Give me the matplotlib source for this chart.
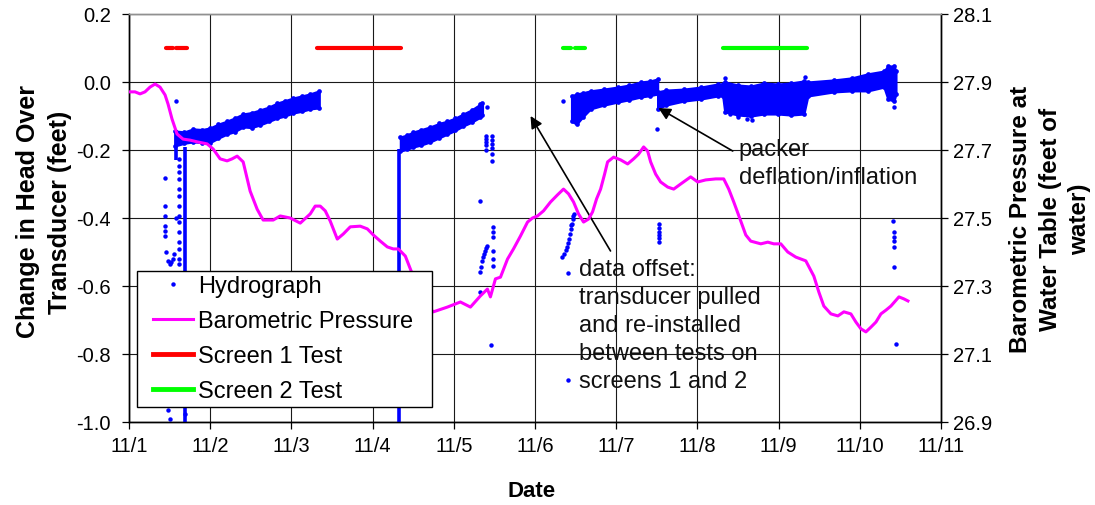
import matplotlib
matplotlib.use("Agg")
import matplotlib.pyplot as plt
from matplotlib.lines import Line2D
from matplotlib.legend_handler import HandlerLine2D

plt.rcParams['font.family'] = ['Liberation Sans', 'DejaVu Sans']

# ---------------- data (x = days after 11/1 00:00) ----------------
date_ticks = [0, 1, 2, 3, 4, 5, 6, 7, 8, 9, 10]
date_labels = ['11/1', '11/2', '11/3', '11/4', '11/5', '11/6', '11/7', '11/8', '11/9', '11/10', '11/11']
head_ticks = [-1.0, -0.8, -0.6, -0.4, -0.2, 0.0, 0.2]
baro_ticks = [26.9, 27.1, 27.3, 27.5, 27.7, 27.9, 28.1]

# Barometric pressure (feet of water)
baro_t = [0.000, 0.074, 0.136, 0.197, 0.259, 0.321, 0.382, 0.444, 0.481, 0.530,
          0.592, 0.666, 0.752, 0.839, 0.962, 1.036, 1.122, 1.208, 1.270, 1.332,
          1.406, 1.492, 1.578, 1.652, 1.776, 1.862, 1.985, 2.109, 2.232, 2.293,
          2.355, 2.417, 2.478, 2.565, 2.639, 2.725, 2.848, 2.935, 3.009, 3.095,
          3.181, 3.255, 3.317, 3.403, 3.465, 3.563, 3.650, 3.748, 3.921, 4.081,
          4.205, 4.328, 4.414, 4.451, 4.513, 4.575, 4.661, 4.735, 4.821, 4.908,
          4.969, 5.031, 5.105, 5.191, 5.277, 5.351, 5.413, 5.475, 5.536, 5.598,
          5.660, 5.709, 5.758, 5.808, 5.857, 5.894, 5.968, 6.054, 6.141, 6.215,
          6.276, 6.338, 6.387, 6.424, 6.486, 6.547, 6.634, 6.708, 6.794, 6.917,
          7.004, 7.102, 7.226, 7.324, 7.386, 7.448, 7.534, 7.596, 7.657, 7.781,
          7.867, 7.941, 8.027, 8.113, 8.212, 8.335, 8.434, 8.496, 8.557, 8.644,
          8.730, 8.804, 8.890, 8.952, 9.014, 9.075, 9.137, 9.199, 9.260, 9.322,
          9.383, 9.482, 9.544, 9.593]
baro_p = [27.871, 27.871, 27.865, 27.871, 27.885, 27.894, 27.885, 27.862, 27.835, 27.791,
          27.747, 27.732, 27.729, 27.724, 27.718, 27.703, 27.674, 27.668, 27.674, 27.682,
          27.665, 27.579, 27.526, 27.494, 27.494, 27.506, 27.500, 27.485, 27.512, 27.535,
          27.535, 27.521, 27.491, 27.438, 27.453, 27.474, 27.476, 27.468, 27.450, 27.432,
          27.415, 27.409, 27.409, 27.388, 27.350, 27.291, 27.247, 27.224, 27.238, 27.253,
          27.238, 27.271, 27.291, 27.268, 27.321, 27.326, 27.379, 27.409, 27.447, 27.488,
          27.500, 27.506, 27.521, 27.547, 27.568, 27.585, 27.571, 27.547, 27.512, 27.488,
          27.497, 27.518, 27.556, 27.585, 27.629, 27.665, 27.679, 27.671, 27.659, 27.674,
          27.688, 27.709, 27.697, 27.665, 27.629, 27.606, 27.591, 27.585, 27.600, 27.621,
          27.606, 27.612, 27.615, 27.615, 27.585, 27.547, 27.491, 27.450, 27.432, 27.424,
          27.429, 27.424, 27.424, 27.400, 27.385, 27.374, 27.329, 27.282, 27.241, 27.218,
          27.212, 27.224, 27.218, 27.194, 27.174, 27.165, 27.179, 27.194, 27.218, 27.229,
          27.241, 27.268, 27.262, 27.256]

# Hydrograph bands (upper/lower envelope of dense logger readings, feet)
segA_t = [0.567, 0.680, 0.789, 0.900, 0.999, 1.100, 1.208, 1.300, 1.406, 1.510, 1.615,
          1.720, 1.825, 1.920, 2.022, 2.130, 2.232, 2.343]
segA_hi = [-0.144, -0.147, -0.138, -0.140, -0.135, -0.124, -0.115, -0.106, -0.094, -0.090,
           -0.082, -0.074, -0.062, -0.055, -0.047, -0.041, -0.035, -0.026]
segA_lo = [-0.188, -0.180, -0.176, -0.178, -0.178, -0.165, -0.153, -0.146, -0.132, -0.134,
           -0.126, -0.116, -0.106, -0.100, -0.091, -0.086, -0.079, -0.076]

segB_t = [3.342, 3.420, 3.502, 3.600, 3.711, 3.820, 3.921, 4.020, 4.118, 4.220, 4.328, 4.353]
segB_hi = [-0.162, -0.156, -0.147, -0.140, -0.132, -0.122, -0.115, -0.106, -0.094, -0.082,
           -0.065, -0.062]
segB_lo = [-0.203, -0.198, -0.191, -0.185, -0.176, -0.164, -0.153, -0.142, -0.129, -0.118,
           -0.103, -0.097]

segC_t = [5.450, 5.512, 5.586, 5.684, 5.845, 6.017, 6.160, 6.301, 6.420, 6.510]
segC_hi = [-0.041, -0.035, -0.032, -0.026, -0.021, -0.015, -0.009, 0.000, 0.003, 0.009]
segC_lo = [-0.115, -0.124, -0.103, -0.079, -0.068, -0.059, -0.052, -0.044, -0.040, -0.035]

segD_t = [6.510, 6.609, 6.831, 7.041, 7.250, 7.312, 7.337, 7.500, 7.657, 7.820, 7.990,
          8.150, 8.311, 8.360, 8.681, 8.900, 9.100, 9.297, 9.346, 9.420, 9.445]
segD_hi = [-0.029, -0.024, -0.021, -0.015, -0.006, -0.006, 0.000, -0.009, -0.012, -0.003,
           -0.006, -0.003, 0.003, 0.000, 0.006, 0.012, 0.024, 0.032, 0.047, 0.047, 0.032]
segD_lo = [-0.079, -0.068, -0.056, -0.050, -0.041, -0.041, -0.088, -0.097, -0.100, -0.094,
           -0.094, -0.097, -0.094, -0.041, -0.029, -0.026, -0.026, -0.015, -0.050, -0.056,
           -0.035]

# Rapid drawdown / recovery columns (time, lowest, highest)
drop_t = [0.575, 0.690, 3.330]
drop_lo = [-0.230, -1.000, -1.000]
drop_hi = [-0.140, -0.190, -0.197]

# Individual readings away from the dense bands
pts_t = [0.580, 0.440, 0.440, 0.440, 0.440, 0.440, 0.440, 0.460, 0.480, 0.500, 0.520,
         0.540, 0.560, 0.620, 0.620, 0.620, 0.620, 0.620, 0.620, 0.620, 0.620, 0.620,
         0.620, 0.620, 0.620, 0.620, 0.620, 0.580, 0.480, 0.505, 0.690,
         4.414, 4.402, 4.402, 4.402, 4.402, 4.402, 4.476, 4.476, 4.476, 4.476, 4.476,
         4.476, 4.328, 4.328, 4.340, 4.353, 4.365, 4.377, 4.390, 4.402, 4.414, 4.488,
         4.488, 4.488, 4.488, 4.488, 4.488, 4.328, 4.464,
         5.339, 5.475, 5.463, 5.450, 5.438, 5.426, 5.413, 5.401, 5.389, 5.376, 5.352,
         5.327, 5.401, 5.401, 5.463, 5.438,
         6.498, 6.523, 6.523, 6.523, 6.523, 6.523, 6.523,
         7.337, 8.323, 7.398, 7.496, 7.607, 7.669, 9.420, 9.408, 9.420, 9.420, 9.420,
         9.420, 9.420, 9.445]
pts_y = [-0.056, -0.282, -0.365, -0.394, -0.424, -0.438, -0.453, -0.500, -0.525, -0.535,
         -0.530, -0.520, -0.505, -0.226, -0.247, -0.265, -0.285, -0.315, -0.335, -0.365,
         -0.394, -0.412, -0.441, -0.471, -0.491, -0.521, -0.535, -0.400, -0.965, -0.990,
         -0.975,
         -0.074, -0.159, -0.167, -0.176, -0.186, -0.200, -0.159, -0.170, -0.182, -0.194,
         -0.212, -0.232, -0.350, -0.559, -0.544, -0.526, -0.515, -0.505, -0.497, -0.488,
         -0.482, -0.426, -0.441, -0.456, -0.497, -0.521, -0.541, -0.618, -0.774,
         -0.056, -0.388, -0.403, -0.418, -0.432, -0.447, -0.462, -0.474, -0.485, -0.494,
         -0.506, -0.515, -0.562, -0.876, -0.395, -0.420,
         -0.138, -0.418, -0.430, -0.440, -0.450, -0.460, -0.471,
         0.012, 0.015, -0.094, -0.103, -0.109, -0.112, -0.074, -0.409, -0.441, -0.455,
         -0.468, -0.485, -0.544, -0.771]

# Packer test periods (plotted at +0.1 ft)
scr1_starts = [0.456, 0.580, 2.318]
scr1_ends = [0.543, 0.715, 3.354]
scr2_starts = [5.350, 5.490, 7.310]
scr2_ends = [5.440, 5.620, 8.350]
test_level = 0.1

BLUE = '#0000FF'
MAGENTA = '#FF00FF'
RED = '#FF0000'
GREEN = '#00FF00'

# ---------------- figure ----------------
fig = plt.figure(figsize=(10.95, 5.06), dpi=100)
ax = fig.add_axes([129 / 1095, 1 - 423 / 506, 812 / 1095, 408 / 506])
ax2 = ax.twinx()

ax.set_xlim(0, 10)
ax.set_ylim(-1.0, 0.2)
ax2.set_ylim(26.9, 28.1)

ax.set_xticks(date_ticks)
ax.set_xticklabels(date_labels)
ax.set_yticks(head_ticks)
ax.set_yticklabels(['%.1f' % v for v in head_ticks])
ax2.set_yticks(baro_ticks)
ax2.set_yticklabels(['%.1f' % v for v in baro_ticks])

ax.grid(True, color='#1a1a1a', linewidth=0.8)
ax.set_axisbelow(True)

ax.tick_params(axis='both', direction='out', length=5, width=0.9, labelsize=14.5, colors='black')
ax.tick_params(axis='y', pad=8)
ax.tick_params(axis='x', pad=5)
ax2.tick_params(axis='y', direction='out', length=5, width=0.9, labelsize=14.5, pad=4)

for a in (ax, ax2):
    a.spines['top'].set_color('#909090')
    a.spines['left'].set_color('black')
    a.spines['right'].set_color('black')
    a.spines['bottom'].set_color('black')
    for s in a.spines.values():
        s.set_linewidth(1.0)

# hydrograph (dense bands)
for t, hi, lo in [(segA_t, segA_hi, segA_lo), (segB_t, segB_hi, segB_lo),
                  (segC_t, segC_hi, segC_lo), (segD_t, segD_hi, segD_lo)]:
    ax.fill_between(t, lo, hi, color=BLUE, linewidth=1.6, edgecolor=BLUE, zorder=3)
    ax.plot(t, hi, 'o', color=BLUE, ms=3.4, mew=0, zorder=3)
    ax.plot(t, lo, 'o', color=BLUE, ms=3.4, mew=0, zorder=3)

ax.vlines(drop_t, drop_lo, drop_hi, color=BLUE, linewidth=2.6, zorder=3)
ax.plot(pts_t, pts_y, 'o', color=BLUE, ms=3.2, mew=0, linestyle='none', zorder=3)

# test periods
for s, e in zip(scr1_starts, scr1_ends):
    ax.plot([s, e], [test_level, test_level], color=RED, linewidth=3, solid_capstyle='round', zorder=4)
for s, e in zip(scr2_starts, scr2_ends):
    ax.plot([s, e], [test_level, test_level], color=GREEN, linewidth=3, solid_capstyle='round', zorder=4)

# barometric pressure
ax2.plot(baro_t, baro_p, color=MAGENTA, linewidth=2.2, zorder=5)

# annotations
ax.annotate('', xy=(4.945, -0.100), xytext=(5.93, -0.497),
            arrowprops=dict(arrowstyle='-|>', color='black', lw=1.2, mutation_scale=18,
                            shrinkA=0, shrinkB=0), zorder=6)
ax.text(5.536, -0.715, 'data offset:\ntransducer pulled\nand re-installed\nbetween tests on\nscreens 1 and 2',
        ha='left', va='center', fontsize=17, linespacing=1.36, color='#111111', zorder=6)
ax.annotate('', xy=(6.52, -0.0765), xytext=(7.435, -0.203),
            arrowprops=dict(arrowstyle='-|>', color='black', lw=1.2, mutation_scale=18,
                            shrinkA=0, shrinkB=0), zorder=6)
ax.text(7.51, -0.238, 'packer\ndeflation/inflation', ha='left', va='center', fontsize=17,
        linespacing=1.36, color='#111111', zorder=6)

# legend
handles = [Line2D([], [], marker='o', color=BLUE, ms=3.2, mew=0, linestyle='none'),
           Line2D([], [], color=MAGENTA, linewidth=2.2),
           Line2D([], [], color=RED, linewidth=3.5),
           Line2D([], [], color=GREEN, linewidth=3.5)]
labels = ['Hydrograph', 'Barometric Pressure', 'Screen 1 Test', 'Screen 2 Test']
hmap = {h: HandlerLine2D(xpad=0.46) for h in handles}
leg = ax2.legend(handles, labels, loc='lower left',
                 bbox_to_anchor=(0.0099, 0.037, 0.3633, 0.338), mode='expand',
                 borderaxespad=0, fontsize=17, frameon=True, fancybox=False, shadow=False,
                 handlelength=2.17, handletextpad=0.21, labelspacing=0.55, borderpad=0.2,
                 handler_map=hmap)
leg.get_frame().set_edgecolor('black')
leg.get_frame().set_linewidth(1.0)
leg.get_frame().set_alpha(1)
leg.set_zorder(10)

# axis titles
fig.text(44 / 1095, 1 - 212 / 506, 'Change in Head Over\nTransducer (feet)', rotation=90,
         ha='center', va='center', fontsize=18, fontweight='bold', multialignment='center',
         linespacing=1.43)
fig.text(1050 / 1095, 1 - 219 / 506, 'Barometric Pressure at\nWater Table (feet of\nwater)',
         rotation=90, ha='center', va='center', fontsize=17.5, fontweight='bold',
         multialignment='center', linespacing=1.34)
fig.text(532 / 1095, 1 - 492 / 506, 'Date', ha='center', va='center', fontsize=16,
         fontweight='bold')

fig.savefig('out.png', dpi=100)
